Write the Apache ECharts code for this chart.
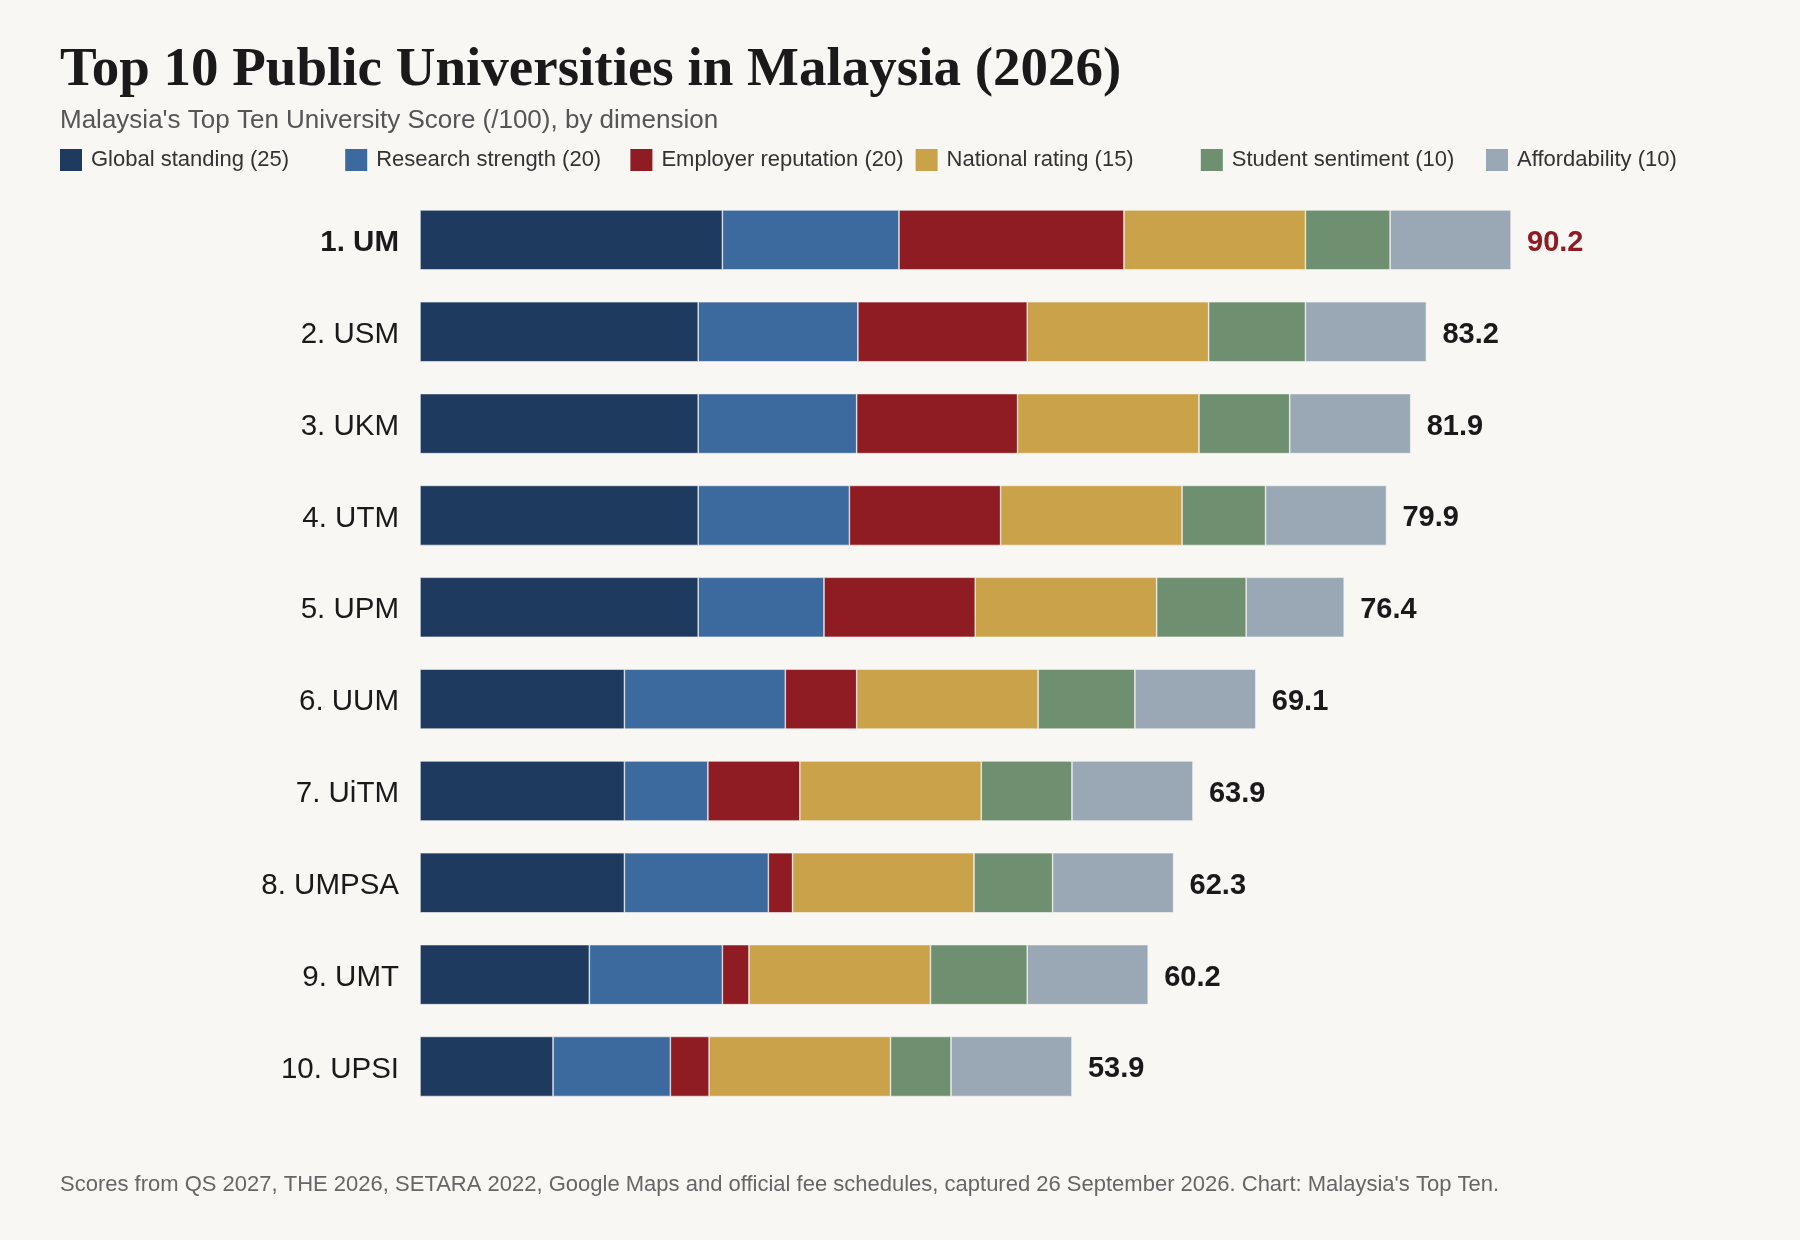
<!DOCTYPE html>
<html>
<head>
<meta charset="utf-8">
<script src="https://cdn.jsdelivr.net/npm/echarts@6/dist/echarts.min.js"></script>
<style>
  html, body { margin: 0; padding: 0; background: #f8f7f4; }
  #chart { width: 1800px; height: 1240px; }
</style>
</head>
<body>
<div id="chart"></div>
<script>
var universities = ['1. UM', '2. USM', '3. UKM', '4. UTM', '5. UPM', '6. UUM', '7. UiTM', '8. UMPSA', '9. UMT', '10. UPSI'];
var dimensions = ['Global standing (25)', 'Research strength (20)', 'Employer reputation (20)', 'National rating (15)', 'Student sentiment (10)', 'Affordability (10)'];
var globalStanding = [25.0, 23.0, 23.0, 23.0, 23.0, 16.9, 16.9, 16.9, 14.0, 11.0];
var research = [14.6, 13.2, 13.1, 12.5, 10.4, 13.3, 6.9, 11.9, 11.0, 9.7];
var employer = [18.6, 14.0, 13.3, 12.5, 12.5, 5.9, 7.6, 2.0, 2.2, 3.2];
var national = [15.0, 15.0, 15.0, 15.0, 15.0, 15.0, 15.0, 15.0, 15.0, 15.0];
var sentiment = [7.0, 8.0, 7.5, 6.9, 7.4, 8.0, 7.5, 6.5, 8.0, 5.0];
var affordability = [10.0, 10.0, 10.0, 10.0, 8.1, 10.0, 10.0, 10.0, 10.0, 10.0];
var totals = [90.2, 83.2, 81.9, 79.9, 76.4, 69.1, 63.9, 62.3, 60.2, 53.9];

var colors = ['#1f3a5f', '#3c6a9e', '#8e1c22', '#c9a24a', '#6e8f70', '#9aa8b5'];
var seriesData = [globalStanding, research, employer, national, sentiment, affordability];

var chart = echarts.init(document.getElementById('chart'));

// one legend per item so they sit on a fixed spacing
var legends = dimensions.map(function (name, i) {
    return {
        data: [name],
        left: 58 + i * 285.2,
        top: 147,
        padding: 0,
        itemWidth: 24,
        itemHeight: 24,
        icon: 'rect',
        selectedMode: false,
        textStyle: { fontSize: 22, color: '#333', fontFamily: 'Liberation Sans', padding: [0, 0, 0, 3] }
    };
});

var series = dimensions.map(function (name, i) {
    var s = {
        name: name,
        type: 'bar',
        stack: 'score',
        barWidth: 60,
        data: seriesData[i],
        itemStyle: { color: colors[i], borderColor: '#f8f7f4', borderWidth: 0.6 }
    };
    if (i === dimensions.length - 1) {
        s.label = {
            show: true,
            position: 'right',
            distance: 16,
            formatter: function (p) {
                var t = totals[p.dataIndex].toFixed(1);
                return p.dataIndex === 0 ? '{r|' + t + '}' : '{n|' + t + '}';
            },
            rich: {
                r: { fontSize: 29, fontWeight: 'bold', color: '#8e1c22', fontFamily: 'Liberation Sans', padding: [6, 0, 0, 0] },
                n: { fontSize: 29, fontWeight: 'bold', color: '#1a1a1a', fontFamily: 'Liberation Sans', padding: [6, 0, 0, 0] }
            }
        };
    }
    return s;
});

var option = {
    backgroundColor: '#f8f7f4',
    animation: false,
    title: [{
        text: 'Top 10 Public Universities in Malaysia (2026)',
        left: 60,
        top: 43,
        padding: 0,
        textStyle: { fontFamily: 'Liberation Serif', fontWeight: 'bold', fontSize: 55, color: '#1a1a1a' }
    }, {
        text: "Malaysia's Top Ten University Score (/100), by dimension",
        left: 60,
        top: 108,
        padding: 0,
        textStyle: { fontFamily: 'Liberation Sans', fontWeight: 'normal', fontSize: 26, color: '#555' }
    }, {
        text: "Scores from QS 2027, THE 2026, SETARA 2022, Google Maps and official fee schedules, captured 26 September 2026. Chart: Malaysia's Top Ten.",
        left: 60,
        top: 1174,
        padding: 0,
        textStyle: { fontFamily: 'Liberation Sans', fontWeight: 'normal', fontSize: 22, color: '#666' }
    }],
    legend: legends,
    grid: { left: 420, right: 170.4, top: 194, bottom: 127.6, containLabel: false },
    xAxis: {
        type: 'value',
        min: 0,
        max: 100,
        show: false
    },
    yAxis: {
        type: 'category',
        inverse: true,
        data: universities,
        axisLine: { show: false },
        axisTick: { show: false },
        axisLabel: {
            margin: 21,
            fontSize: 29,
            color: '#1a1a1a',
            fontFamily: 'Liberation Sans',
            formatter: function (v, i) {
                return i === 0 ? '{b|' + v + '}' : '{a|' + v + '}';
            },
            rich: {
                a: { fontSize: 29.5, color: '#1a1a1a', fontFamily: 'Liberation Sans', padding: [6, 0, 0, 0] },
                b: { fontSize: 29.5, fontWeight: 'bold', color: '#1a1a1a', fontFamily: 'Liberation Sans', padding: [6, 0, 0, 0] }
            }
        }
    },
    series: series
};

chart.setOption(option);
</script>
</body>
</html>
